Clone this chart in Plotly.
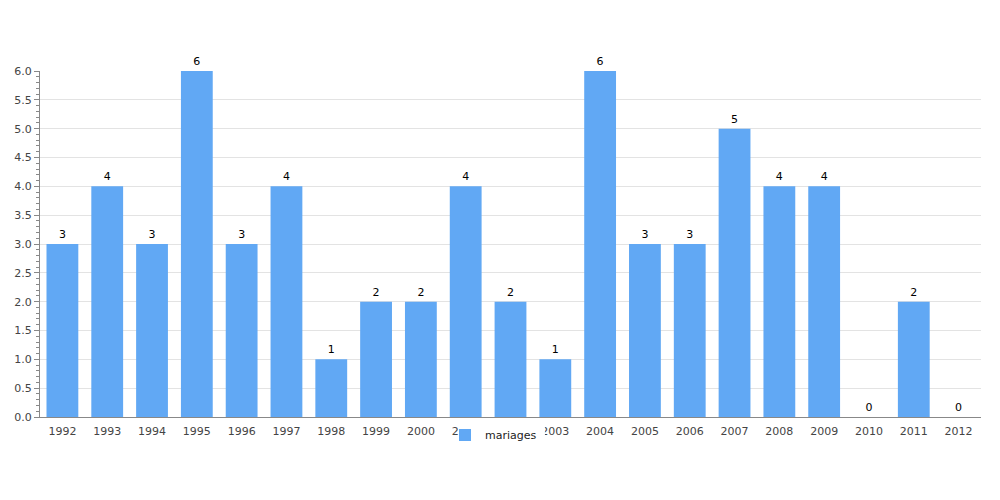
import plotly.graph_objects as go

years = ["1992","1993","1994","1995","1996","1997","1998","1999","2000","2001","2002",
         "2003","2004","2005","2006","2007","2008","2009","2010","2011","2012"]
mariages = [3,4,3,6,3,4,1,2,2,4,2,1,6,3,3,5,4,4,0,2,0]

fig = go.Figure()
fig.add_trace(go.Bar(
    x=years, y=mariages, name="mariages",
    marker=dict(color="#61A8F4", line=dict(width=0)),
    text=[str(v) for v in mariages], textposition="outside",
    textfont=dict(family="DejaVu Sans", size=11, color="#000000"),
    cliponaxis=False,
))
# white backdrop of the legend box (covers the tick labels beneath it, as in the original)
fig.add_shape(type="rect", xref="paper", yref="paper",
              x0=0.4452, x1=0.5366, y0=-0.0838, y1=-0.0202,
              fillcolor="white", line=dict(width=0), layer="above")
fig.update_layout(
    width=1000, height=500,
    margin=dict(l=32, r=27, t=63, b=91, autoexpand=False),
    paper_bgcolor="white", plot_bgcolor="white",
    font=dict(family="DejaVu Sans", size=11, color="#444444"),
    bargap=0.29,
    showlegend=True,
    legend=dict(orientation="h", x=0.4304, xanchor="left", y=-0.052, yanchor="middle",
                font=dict(size=11, color="#222222"), bgcolor="rgba(0,0,0,0)"),
    xaxis=dict(type="category", showgrid=False, showline=True, linecolor="#888888",
               linewidth=1, ticks="", ticklabelstandoff=4,
               tickfont=dict(size=11, color="#444444")),
    yaxis=dict(range=[0, 6], dtick=0.5, tickformat=".1f", showgrid=True,
               gridcolor="#e3e3e3", showline=True, linecolor="#888888", linewidth=1,
               ticks="outside", ticklen=5, tickcolor="#888888", zeroline=False,
               minor=dict(dtick=0.1, ticks="outside", ticklen=3, tickcolor="#888888", showgrid=False),
               tickfont=dict(size=11, color="#444444")),
)
fig.write_html("out.html")
